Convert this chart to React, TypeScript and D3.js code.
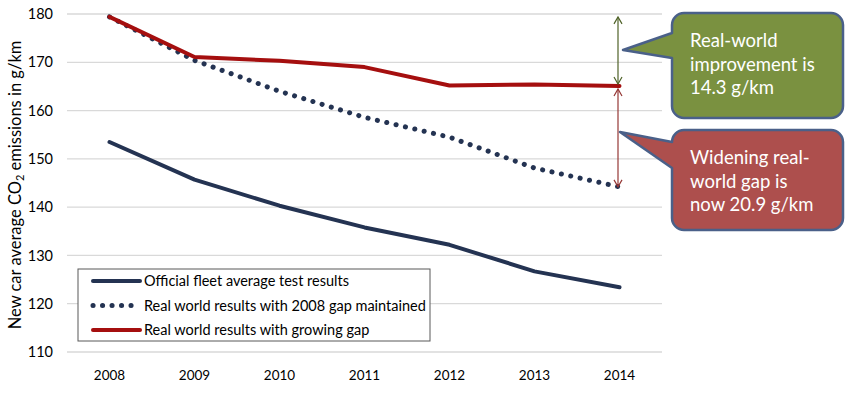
import { useEffect, useRef } from 'react';
import * as d3 from 'd3';

const YEARS = ['2008', '2009', '2010', '2011', '2012', '2013', '2014'];
const OFFICIAL = [153.5, 145.7, 140.3, 135.8, 132.2, 126.7, 123.4];
const GAP_MAINTAINED = [179.4, 170.4, 164.0, 158.6, 154.5, 148.1, 144.2];
const GROWING_GAP = [179.4, 171.1, 170.3, 169.0, 165.2, 165.4, 165.1];
const Y_TICKS = [110, 120, 130, 140, 150, 160, 170, 180];

const SERIES = [
  { name: 'Official fleet average test results', values: OFFICIAL, color: '#243352', dotted: false },
  { name: 'Real world results with 2008 gap maintained', values: GAP_MAINTAINED, color: '#243352', dotted: true },
  { name: 'Real world results with growing gap', values: GROWING_GAP, color: '#A50F0F', dotted: false },
];

const FONT = "Lato, 'Open Sans', sans-serif";

export default function App() {
  const svgRef = useRef<SVGSVGElement>(null);

  useEffect(() => {
    const el = svgRef.current;
    if (!el) return;
    const svg = d3.select(el);
    svg.selectAll('*').remove();

    const W = 848;
    const H = 394;
    const left = 67, right = 662, top = 14, bottom = 352;

    const x = d3.scaleBand().domain(YEARS).range([left, right]);
    const y = d3.scaleLinear().domain([110, 180]).range([bottom, top]);
    const cx = (yr: string) => (x(yr) || 0) + x.bandwidth() / 2;

    // grid
    svg.append('g').selectAll('line').data(Y_TICKS).join('line')
      .attr('x1', left).attr('x2', right)
      .attr('y1', (d) => y(d)).attr('y2', (d) => y(d))
      .attr('stroke', '#D9D9D9').attr('stroke-width', 1.3);

    // y tick labels
    svg.append('g').selectAll('text').data(Y_TICKS).join('text')
      .attr('x', 53).attr('y', (d) => y(d)).attr('dy', '0.35em')
      .attr('text-anchor', 'end').attr('font-size', 14.5).attr('font-family', FONT)
      .attr('fill', '#000').text((d) => d);

    // x tick labels
    svg.append('g').selectAll('text').data(YEARS).join('text')
      .attr('x', (d) => cx(d)).attr('y', 380)
      .attr('text-anchor', 'middle').attr('font-size', 13.5).attr('font-family', FONT)
      .attr('fill', '#000').text((d) => d);

    // y axis title
    const yt = svg.append('text')
      .attr('transform', `translate(21,${(top + bottom) / 2 + 2}) rotate(-90)`)
      .attr('text-anchor', 'middle').attr('font-size', 16.5).attr('font-family', FONT).attr('fill', '#000');
    yt.append('tspan').text('New car average CO');
    yt.append('tspan').attr('font-size', 11).attr('dy', 3).text('2');
    yt.append('tspan').attr('dy', -3).text(' emissions in g/km');

    const line = d3.line<number>().x((_, i) => cx(YEARS[i])).y((d) => y(d));

    SERIES.forEach((s) => {
      svg.append('path')
        .attr('d', line(s.values))
        .attr('fill', 'none')
        .attr('stroke', s.color)
        .attr('stroke-width', s.dotted ? 5 : 4)
        .attr('stroke-linecap', 'round')
        .attr('stroke-linejoin', 'round')
        .attr('stroke-dasharray', s.dotted ? '0.1,9.5' : null);
    });

    // legend
    const lg = svg.append('g');
    lg.append('rect').attr('x', 78).attr('y', 269).attr('width', 352).attr('height', 72)
      .attr('fill', '#fff').attr('stroke', '#595959').attr('stroke-width', 1);
    SERIES.forEach((s, i) => {
      const ly = 281 + i * 24.5;
      lg.append('line').attr('x1', 93).attr('x2', 140).attr('y1', ly).attr('y2', ly)
        .attr('stroke', s.color).attr('stroke-width', s.dotted ? 5 : 4)
        .attr('stroke-linecap', 'round')
        .attr('stroke-dasharray', s.dotted ? '0.1,9.4' : null);
      lg.append('text').attr('x', 144).attr('y', ly).attr('dy', '0.35em')
        .attr('font-size', 14.5).attr('font-family', FONT).attr('fill', '#000').text(s.name);
    });

    // double arrows
    const defs = svg.append('defs');
    const mk = (id: string, color: string) => {
      defs.append('marker').attr('id', id).attr('markerWidth', 10).attr('markerHeight', 10)
        .attr('refX', 8).attr('refY', 5).attr('orient', 'auto-start-reverse')
        .attr('markerUnits', 'userSpaceOnUse')
        .append('path').attr('d', 'M1,1 L8,5 L1,9').attr('fill', 'none')
        .attr('stroke', color).attr('stroke-width', 1.2);
    };
    mk('arr-green', '#4F6228');
    mk('arr-red', '#953735');
    const ax = 618;
    const last = GROWING_GAP.length - 1;
    svg.append('line').attr('x1', ax).attr('x2', ax)
      .attr('y1', y(GROWING_GAP[0])).attr('y2', y(GROWING_GAP[last]) - 2)
      .attr('stroke', '#4F6228').attr('stroke-width', 1.2)
      .attr('marker-start', 'url(#arr-green)').attr('marker-end', 'url(#arr-green)');
    svg.append('line').attr('x1', ax).attr('x2', ax)
      .attr('y1', y(GROWING_GAP[last]) + 3).attr('y2', y(GAP_MAINTAINED[last]))
      .attr('stroke', '#953735').attr('stroke-width', 1.2)
      .attr('marker-start', 'url(#arr-red)').attr('marker-end', 'url(#arr-red)');

    // callouts
    const callout = (bx: number, by: number, bw: number, bh: number, tipX: number, tipY: number,
      b1: number, b2: number, fill: string, lines: string[]) => {
      const r = 12;
      const p = d3.path();
      p.moveTo(bx + r, by);
      p.lineTo(bx + bw - r, by);
      p.arcTo(bx + bw, by, bx + bw, by + r, r);
      p.lineTo(bx + bw, by + bh - r);
      p.arcTo(bx + bw, by + bh, bx + bw - r, by + bh, r);
      p.lineTo(bx + r, by + bh);
      p.arcTo(bx, by + bh, bx, by + bh - r, r);
      p.lineTo(bx, b2);
      p.lineTo(tipX, tipY);
      p.lineTo(bx, b1);
      p.lineTo(bx, by + r);
      p.arcTo(bx, by, bx + r, by, r);
      p.closePath();
      svg.append('path').attr('d', p.toString()).attr('fill', fill)
        .attr('stroke', '#4A6089').attr('stroke-width', 2.5).attr('stroke-linejoin', 'round');
      lines.forEach((t, i) => {
        svg.append('text').attr('x', bx + 18).attr('y', by + 28 + i * 23.5).attr('dy', '0.35em')
          .attr('font-size', 18.5).attr('font-family', FONT).attr('fill', '#fff').text(t);
      });
    };
    callout(672, 13, 171, 105, 623, 50, 33, 58, '#7A9140', ['Real-world', 'improvement is', '14.3 g/km']);
    callout(672, 130, 171, 100, 620, 132, 142, 168, '#AD4F4D', ['Widening real-', 'world gap is', 'now 20.9 g/km']);

    svg.attr('width', W).attr('height', H);
  }, []);

  return (
    <div style={{ position: 'absolute', left: 0, top: 0 }}>
      <svg ref={svgRef} width={848} height={394} style={{ display: 'block', background: '#fff' }} />
    </div>
  );
}
